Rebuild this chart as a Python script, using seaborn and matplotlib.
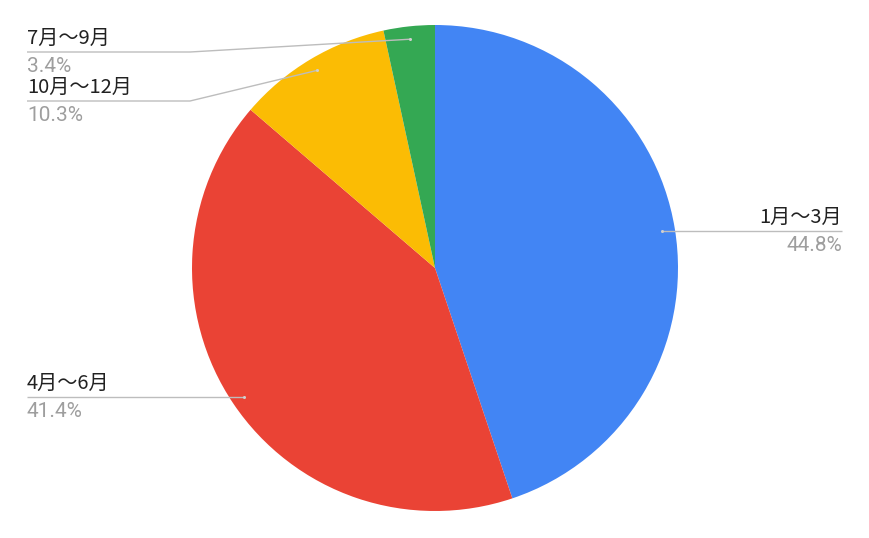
import numpy as np
import matplotlib
matplotlib.use("Agg")
import matplotlib.pyplot as plt
import seaborn as sns

# 四半期ごとの割合
labels = ["1月～3月", "4月～6月", "7月～9月", "10月～12月"]
shares = [44.8, 41.4, 3.4, 10.3]
colors = ["#4285F4", "#EA4335", "#34A853", "#FBBC04"]

# 表示順（時計回り）: 1-3, 4-6, 10-12, 7-9
order = [0, 1, 3, 2]

W, H = 870, 538
CX, CY, R = 435, 268, 243


def img_y(y):
    return H - y


sns.set_theme(style="white")
plt.rcParams["font.family"] = ["Noto Sans CJK JP", "DejaVu Sans"]

fig = plt.figure(figsize=(W / 100, H / 100), dpi=100)
ax = fig.add_axes([0, 0, 1, 1])

vals = [shares[i] for i in order]
cols = [colors[i] for i in order]
ax.pie(vals, colors=cols, startangle=90, counterclock=False,
       center=(CX, img_y(CY)), radius=R, wedgeprops={"linewidth": 0},
       frame=True)
ax.set_xlim(0, W)
ax.set_ylim(0, H)
ax.set_aspect("equal")
ax.axis("off")

# ラベル配置: (左右, 線の高さ[画像座標], 折れ点x)
label_layout = {
    0: ("right", None, None),
    1: ("left", None, None),
    3: ("left", 101, 190),
    2: ("left", 52, 190),
}
LEFT_X, RIGHT_X = 27, 842
line_col = "#bdbdbd"
total = sum(vals)
cum = 0.0
for idx, v in zip(order, vals):
    mid = cum + v / 2
    cum += v
    ang = np.deg2rad(90 - mid / total * 360)
    ax_x = CX + 0.947 * R * np.cos(ang)
    ax_y = img_y(CY) + 0.947 * R * np.sin(ang)
    side, ly, ex = label_layout[idx]
    if ly is None:
        line_y = ax_y
        if side == "right":
            xs, ys = [ax_x, RIGHT_X], [line_y, line_y]
        else:
            xs, ys = [LEFT_X, ax_x], [line_y, line_y]
    else:
        line_y = img_y(ly)
        xs, ys = [LEFT_X, ex, ax_x], [line_y, line_y, ax_y]
    ax.plot(xs, ys, color=line_col, lw=1.0, solid_capstyle="butt", zorder=3)
    ax.plot([ax_x], [ax_y], "o", color="#cfcfcf", ms=1.2, zorder=4)

    tx = RIGHT_X if side == "right" else LEFT_X
    ha = "right" if side == "right" else "left"
    ax.text(tx, line_y + 3, labels[idx], ha=ha, va="bottom",
            fontsize=14.5, color="#212121")
    ax.text(tx, line_y - 5, f"{shares[idx]:.1f}%", ha=ha, va="top",
            fontsize=15, color="#9e9e9e", family=["Roboto", "DejaVu Sans"])

fig.savefig("out.png", dpi=100)
